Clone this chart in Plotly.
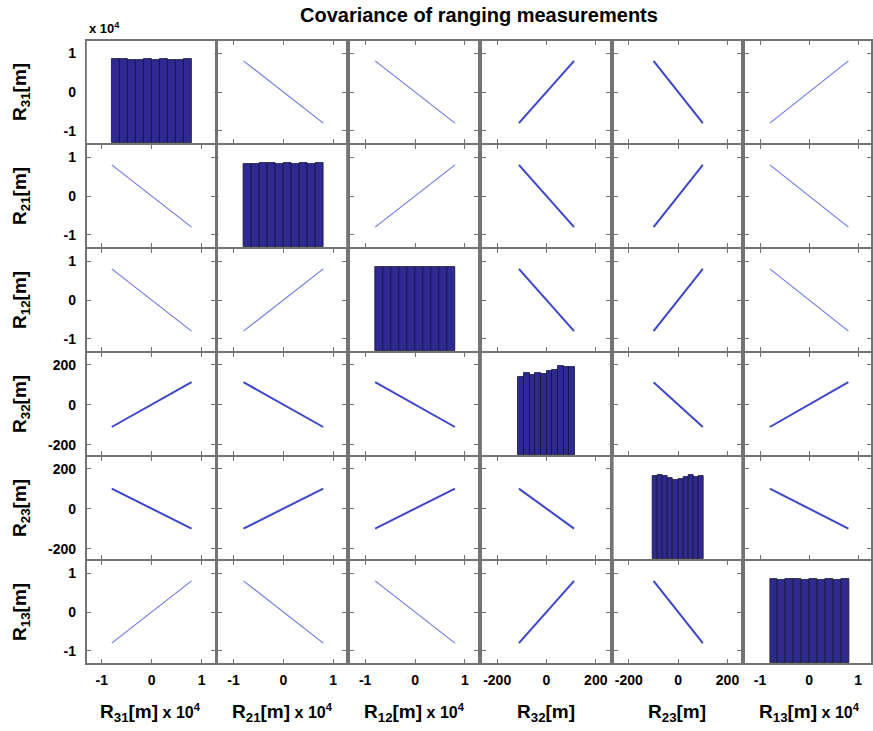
import numpy as np
import plotly.graph_objects as go

# ---------------- data ----------------
var_names = ["31", "21", "12", "32", "23", "13"]
scaled_1e4 = [True, True, True, False, False, True]

# sampled values of each ranging measurement along the (perfectly correlated) record, in metres
R31 = [-8000, 0, 8000]
R21 = [8000, 0, -8000]
R12 = [8000, 0, -8000]
R32 = [-112, 0, 112]
R23 = [100, 0, -100]
R13 = [-8000, 0, 8000]
series = [R31, R21, R12, R32, R23, R13]

# histogram bin range (metres) and bar counts (10 bins) for the diagonal
hist_lo = [-8000, -8000, -8000, -115, -105, -8000]
hist_hi = [8100, 8100, 8100, 115, 105, 8100]
counts_R31 = [100, 100, 99, 99, 100, 99, 100, 99, 99, 100]
counts_R21 = [99, 99, 100, 100, 99, 100, 99, 100, 99, 100]
counts_R12 = [100, 100, 100, 100, 100, 100, 100, 100, 100, 100]
counts_R32 = [88, 92, 90, 92, 91, 95, 96, 100, 99, 99]
counts_R23 = [100, 101, 100, 98, 96, 97, 99, 101, 99, 100]
counts_R13 = [100, 99, 100, 100, 99, 100, 99, 100, 99, 100]
hist_counts = [counts_R31, counts_R21, counts_R12, counts_R32, counts_R23, counts_R13]

ticks_1e4 = [-10000, 0, 10000]
ticktext_1e4 = ["-1", "0", "1"]
ticks_200 = [-200, 0, 200]
ticktext_200 = ["-200", "0", "200"]

# ---------------- layout / style ----------------
W, H = 873, 731
col_left = [87, 219, 351, 483, 615, 747]
row_top = [41, 145, 249, 353, 457, 561]
PW, PH = 128, 102
FONT = "Liberation Sans, Arial, sans-serif"
FRAME = "#737373"
BAR = "#2f2a92"
THIN_LINE = "#7079e0"
THICK_LINE = "#3c46c8"
hist_top_frac = [0.82, 0.82, 0.82, 0.87, 0.82, 0.82]
X_RANGE_1E4 = [-13000, 12600]
X_RANGE_200 = [-262, 256]
Y_RANGE_1E4 = [-13100, 13100]
Y_RANGE_200 = [-252, 258]


def X(px):
    return px / W


def Y(px):
    return 1 - px / H


fig = go.Figure()
layout = {}
bar_traces = []

for r in range(6):
    for c in range(6):
        k = r * 6 + c + 1
        xs = "" if k == 1 else str(k)
        xkey, ykey = "xaxis" + xs, "yaxis" + xs
        xd = [X(col_left[c]), min(1.0, X(col_left[c] + PW))]
        yd = [Y(row_top[r] + PH), Y(row_top[r])]
        if scaled_1e4[c]:
            xr, xtv, xtt = X_RANGE_1E4, ticks_1e4, ticktext_1e4
        else:
            xr, xtv, xtt = X_RANGE_200, ticks_200, ticktext_200
        if scaled_1e4[r]:
            yr, ytv, ytt = Y_RANGE_1E4, ticks_1e4, ticktext_1e4
        else:
            yr, ytv, ytt = Y_RANGE_200, ticks_200, ticktext_200
        common = dict(showline=True, mirror="ticks", linecolor=FRAME, linewidth=2,
                      ticks="inside", ticklen=4, tickwidth=1, tickcolor=FRAME,
                      showgrid=False, zeroline=False,
                      tickfont=dict(family=FONT, size=14, color="black", weight="bold"))
        layout[xkey] = dict(domain=xd, range=xr, tickvals=xtv, ticktext=xtt,
                            anchor="y" + xs, showticklabels=(r == 5),
                            ticklabelstandoff=3, **common)
        layout[ykey] = dict(domain=yd, range=yr, tickvals=ytv, ticktext=ytt,
                            anchor="x" + xs, showticklabels=(c == 0),
                            ticklabelstandoff=6, **common)

        if r != c:
            thick = not (scaled_1e4[r] and scaled_1e4[c])
            fig.add_trace(go.Scatter(
                x=series[c], y=series[r], mode="lines",
                line=dict(color=THICK_LINE if thick else THIN_LINE,
                          width=2.0 if thick else 1.2),
                xaxis="x" + xs, yaxis="y" + xs, showlegend=False, hoverinfo="skip"))
        else:
            # empty trace so the framed panel itself is drawn
            fig.add_trace(go.Scatter(x=[None], y=[None], mode="lines",
                                     xaxis="x" + xs, yaxis="y" + xs,
                                     showlegend=False, hoverinfo="skip"))
            # separate hidden axis pair sitting on the diagonal panel, for the histogram
            hk = str(37 + r)
            cnt = hist_counts[r]
            edges = np.linspace(hist_lo[r], hist_hi[r], len(cnt) + 1)
            centers = (edges[:-1] + edges[1:]) / 2
            width = edges[1] - edges[0]
            layout["xaxis" + hk] = dict(domain=xd, range=xr, anchor="y" + hk, visible=False,
                                        showgrid=False, zeroline=False)
            layout["yaxis" + hk] = dict(domain=yd, anchor="x" + hk,
                                        range=[0, max(cnt) / hist_top_frac[r]],
                                        visible=False, showgrid=False, zeroline=False)
            bar_traces.append(go.Bar(
                x=centers, y=cnt, width=width,
                marker=dict(color=BAR, line=dict(color="#141433", width=0.8)),
                xaxis="x" + hk, yaxis="y" + hk, showlegend=False, hoverinfo="skip"))

for bt in bar_traces:
    fig.add_trace(bt)

annotations = []
# title
annotations.append(dict(text="<b>Covariance of ranging measurements</b>", x=X(480), y=Y(15),
                        xref="paper", yref="paper", xanchor="center", yanchor="middle",
                        showarrow=False, font=dict(family=FONT, size=20, color="black")))
# exponent at top left
annotations.append(dict(text="<b>x 10<sup>4</sup></b>", x=X(87), y=Y(28),
                        xref="paper", yref="paper", xanchor="left", yanchor="middle",
                        showarrow=False, font=dict(family=FONT, size=13, color="black")))
for i, nm in enumerate(var_names):
    # row labels
    annotations.append(dict(text="<b>R<sub>%s</sub>[m]</b>" % nm, x=X(21),
                            y=Y(row_top[i] + PH / 2), xref="paper", yref="paper",
                            xanchor="center", yanchor="middle", textangle=-90,
                            showarrow=False, font=dict(family=FONT, size=19, color="black")))
    # column labels
    if scaled_1e4[i]:
        txt = "<b>R<sub>%s</sub>[m]<span style='font-size:16px'> x 10<sup>4</sup></span></b>" % nm
    else:
        txt = "<b>R<sub>%s</sub>[m]</b>" % nm
    annotations.append(dict(text=txt, x=X(col_left[i] + PW / 2), y=Y(713),
                            xref="paper", yref="paper", xanchor="center", yanchor="middle",
                            showarrow=False, font=dict(family=FONT, size=19, color="black")))

fig.update_layout(**layout)
fig.update_layout(width=W, height=H, margin=dict(l=0, r=0, t=0, b=0),
                  paper_bgcolor="white", plot_bgcolor="white",
                  bargap=0, annotations=annotations, showlegend=False)

fig.write_html("out.html")
